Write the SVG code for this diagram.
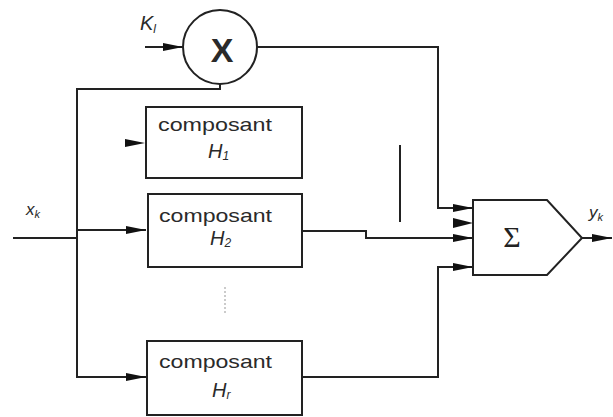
<svg xmlns="http://www.w3.org/2000/svg" width="613" height="417" viewBox="0 0 613 417">
<style>
.ln{fill:none;stroke:#222;stroke-width:2}
.box{fill:#fff;stroke:#222;stroke-width:2}
.t{font-family:"Liberation Sans",Arial,sans-serif;fill:#2a2a2a}
.it{font-family:"Liberation Sans",Arial,sans-serif;font-style:italic;fill:#2a2a2a}
.ah{fill:#111}
</style>
<defs>
<marker id="arr" viewBox="0 0 20 10" refX="20" refY="5" markerWidth="20" markerHeight="10" markerUnits="userSpaceOnUse" orient="auto">
<path d="M0,1 L20,5 L0,9 Z" fill="#111"/>
</marker>
</defs>
<g id="connectors">
<line class="ln" x1="145" y1="47" x2="183" y2="47" marker-end="url(#arr)"/>
<path class="ln" d="M257,47 H438 V208 H473" marker-end="url(#arr)"/>
<path class="ln" d="M220,83 V89 H77 V377 H146" marker-end="url(#arr)"/>
<line class="ln" x1="13" y1="238" x2="77" y2="238"/>
<line class="ln" x1="77" y1="230" x2="146" y2="230" marker-end="url(#arr)"/>
<path class="ah" d="M125,139 L145,143 L125,147 Z"/>
<path class="ln" d="M302,231 H366 V238 H473" marker-end="url(#arr)"/>
<line class="ln" x1="400" y1="145" x2="400" y2="222"/>
<path class="ah" d="M453,218 L473,223 L453,228 Z"/>
<path class="ln" d="M302,377 H438 V267 H473" marker-end="url(#arr)"/>
<line class="ln" x1="582" y1="238" x2="612" y2="238" marker-end="url(#arr)"/>
<line x1="225" y1="287" x2="225" y2="313" stroke="#bbb" stroke-width="1.5" stroke-dasharray="2,2"/>
</g>
<g id="mult">
<circle cx="220" cy="47" r="37" class="box"/>
<text class="t" x="222" y="62" font-size="34" font-weight="bold" text-anchor="middle">X</text>
</g>
<g id="kl">
<text class="it" x="140" y="30" font-size="20">K<tspan font-size="12" dy="3">l</tspan></text>
</g>
<g id="xk">
<text class="it" x="26" y="215" font-size="17">x<tspan font-size="11" dy="3">k</tspan></text>
</g>
<g id="H1">
<rect class="box" x="146" y="107" width="156" height="71"/>
<text class="t" x="158" y="131" font-size="19" textLength="114" lengthAdjust="spacingAndGlyphs">composant</text>
<text class="it" x="208" y="158" font-size="20">H<tspan font-size="12" dy="2">1</tspan></text>
</g>
<g id="H2">
<rect class="box" x="148" y="194" width="154" height="73"/>
<text class="t" x="159" y="222" font-size="19" textLength="113" lengthAdjust="spacingAndGlyphs">composant</text>
<text class="it" x="210" y="245" font-size="20">H<tspan font-size="12" dy="2">2</tspan></text>
</g>
<g id="Hr">
<rect class="box" x="147" y="341" width="155" height="74"/>
<text class="t" x="159" y="368" font-size="19" textLength="113" lengthAdjust="spacingAndGlyphs">composant</text>
<text class="it" x="212" y="397" font-size="20">H<tspan font-size="12" dy="2">r</tspan></text>
</g>
<g id="sum">
<path class="box" d="M473,200 H547 L582,238 L547,275 H473 Z"/>
<text x="512" y="247" font-family="'Liberation Serif','Times New Roman',serif" font-size="30" text-anchor="middle" fill="#222">Σ</text>
</g>
<g id="yk">
<text class="it" x="589" y="218" font-size="17">y<tspan font-size="11" dy="3">k</tspan></text>
</g>
</svg>
